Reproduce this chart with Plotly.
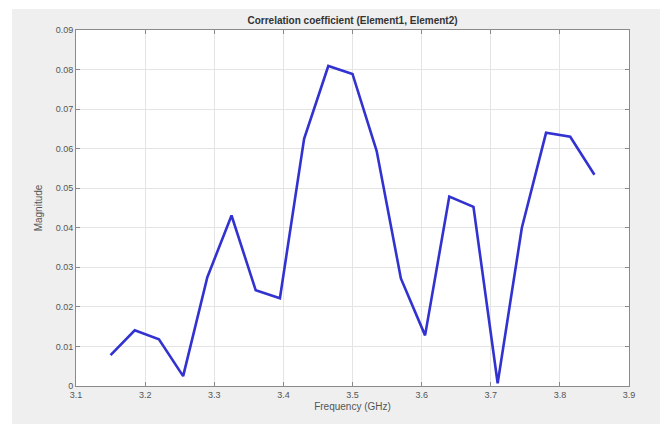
import plotly.graph_objects as go

freq_ghz = [3.15, 3.185, 3.22, 3.255, 3.29, 3.325, 3.36, 3.395, 3.43, 3.465, 3.5,
            3.535, 3.57, 3.605, 3.64, 3.675, 3.71, 3.745, 3.78, 3.815, 3.85]
magnitude = [0.0078, 0.0141, 0.0118, 0.0025, 0.0275, 0.0431, 0.0242, 0.0222, 0.0625,
             0.0809, 0.0789, 0.0594, 0.0272, 0.0128, 0.0479, 0.0453, 0.0007, 0.0400,
             0.0640, 0.0630, 0.0534]
x_ticks = [3.1, 3.2, 3.3, 3.4, 3.5, 3.6, 3.7, 3.8, 3.9]
x_tick_text = ["3.1", "3.2", "3.3", "3.4", "3.5", "3.6", "3.7", "3.8", "3.9"]
y_ticks = [0, 0.01, 0.02, 0.03, 0.04, 0.05, 0.06, 0.07, 0.08, 0.09]
y_tick_text = ["0", "0.01", "0.02", "0.03", "0.04", "0.05", "0.06", "0.07", "0.08", "0.09"]

W, H = 668, 424
L, R, T, B = 76, 39, 30, 38
pw, ph = W - L - R, H - T - B

def px(xp):
    return (xp - L) / pw

def py(yp):
    return (H - B - yp) / ph

fig = go.Figure()
fig.add_trace(go.Scatter(x=freq_ghz, y=magnitude, mode="lines",
                         line=dict(color="#3232d0", width=2.6), showlegend=False))

axis_common = dict(showline=True, linecolor="#8a8a8a", linewidth=1, mirror="ticks",
                   ticks="inside", ticklen=4, tickcolor="#8a8a8a", automargin=False,
                   showgrid=True, gridcolor="#e4e4e4", gridwidth=1, zeroline=False,
                   tickfont=dict(family="Liberation Sans, Arial", size=9, color="#555555"))

fig.update_xaxes(range=[3.1, 3.9], tickvals=x_ticks, ticktext=x_tick_text,
                 title=dict(text="Frequency (GHz)", standoff=4,
                            font=dict(family="Liberation Sans, Arial", size=10, color="#555555")),
                 **axis_common)
fig.update_yaxes(range=[0, 0.09], tickvals=y_ticks, ticktext=y_tick_text,
                 title=dict(text="Magnitude", standoff=11,
                            font=dict(family="Liberation Sans, Arial", size=10, color="#555555")),
                 **axis_common)

fig.update_layout(
    width=W, height=H,
    margin=dict(l=L, r=R, t=T, b=B, pad=0),
    paper_bgcolor="white", plot_bgcolor="white",
    title=dict(text="<b>Correlation coefficient (Element1, Element2)</b>",
               x=px(352.5), xref="paper", xanchor="center",
               y=1 - 20 / H, yref="container", yanchor="middle",
               font=dict(family="Liberation Sans, Arial", size=10, color="#333333")),
    shapes=[
        dict(type="rect", xref="paper", yref="paper", x0=px(12), x1=px(660),
             y0=py(430), y1=py(9), fillcolor="#efefef", line=dict(width=0), layer="below"),
        dict(type="rect", xref="paper", yref="paper", x0=0, x1=1, y0=0, y1=1,
             fillcolor="white", line=dict(width=0), layer="below"),
    ],
)

fig.write_html("out.html")
